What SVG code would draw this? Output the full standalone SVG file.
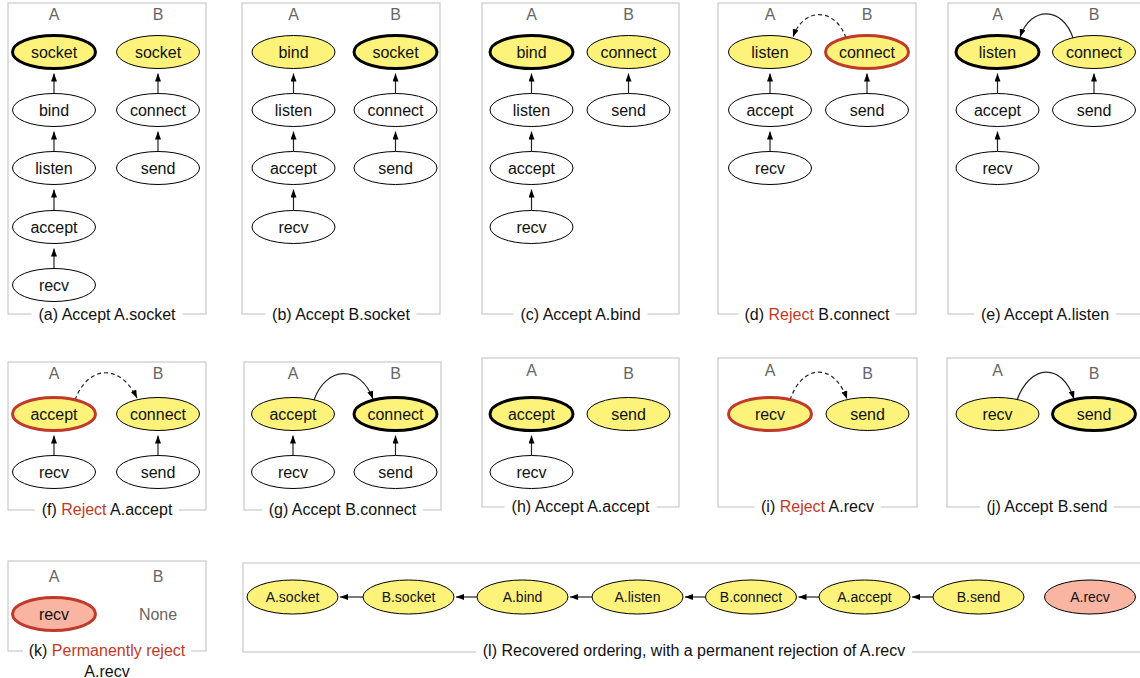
<svg xmlns="http://www.w3.org/2000/svg" width="1140" height="678" viewBox="0 0 1140 678">
<style>
text{font-family:"Liberation Sans",Arial,sans-serif}
.frame{fill:none;stroke:#c8c8c8;stroke-width:1.2}
.gap{fill:#fff;stroke:none}
.cap{font-size:16px;text-anchor:middle;fill:#111}
.red{fill:#c23a26}
.lbl{font-size:16px;text-anchor:middle;fill:#666}
.nd ellipse{fill:#fff;stroke:#000;stroke-width:1}
.nd text{font-size:16px;text-anchor:middle;fill:#111}
.nd.y ellipse{fill:#fdf37b}
.nd.b ellipse{stroke-width:3}
.nd.r ellipse{stroke:#c0392b;stroke-width:3}
.nd.s ellipse{fill:#f9b4a2}
.nd.sm text{font-size:14px}
.e{fill:none;stroke:#222;stroke-width:1.2;marker-end:url(#ah)}
.d{stroke-dasharray:4 3}
</style>
<defs>
<marker id="ah" viewBox="0 0 8 6" refX="8" refY="3" markerWidth="8" markerHeight="6" markerUnits="userSpaceOnUse" orient="auto"><path d="M0,0 L8,3 L0,6 z" fill="#000"/></marker>
</defs>

<!-- Frames and captions -->
<g id="frames">
<rect class="frame" x="8" y="3" width="198" height="311"/>
<rect class="frame" x="242" y="3" width="198" height="311"/>
<rect class="frame" x="482" y="3" width="197" height="311"/>
<rect class="frame" x="718" y="3" width="198" height="311"/>
<rect class="frame" x="948" y="3" width="197" height="311"/>
<rect class="frame" x="8" y="362" width="198" height="148"/>
<rect class="frame" x="244" y="362" width="197" height="148"/>
<rect class="frame" x="482" y="358" width="197" height="149"/>
<rect class="frame" x="718" y="358" width="199" height="149"/>
<rect class="frame" x="947" y="358" width="200" height="149"/>
<rect class="frame" x="8" y="561" width="198" height="90"/>
<rect class="frame" x="243" y="563" width="902" height="89"/>
<rect class="gap" x="31.5" y="308" width="151" height="12"/>
<rect class="gap" x="265.5" y="308" width="151" height="12"/>
<rect class="gap" x="513.5" y="308" width="134" height="12"/>
<rect class="gap" x="738.5" y="308" width="157" height="12"/>
<rect class="gap" x="974" y="308" width="142" height="12"/>
<rect class="gap" x="35" y="504" width="144" height="12"/>
<rect class="gap" x="262" y="504" width="161" height="12"/>
<rect class="gap" x="504.5" y="501" width="152" height="12"/>
<rect class="gap" x="754.5" y="501" width="126" height="12"/>
<rect class="gap" x="980" y="501" width="134" height="12"/>
<rect class="gap" x="23" y="645" width="168" height="12"/>
<rect class="gap" x="476" y="646" width="436" height="12"/>
</g>
<g id="captions">
<text class="cap" x="107" y="320">(a) Accept A.socket</text>
<text class="cap" x="341" y="320">(b) Accept B.socket</text>
<text class="cap" x="580.5" y="320">(c) Accept A.bind</text>
<text class="cap" x="817" y="320">(d) <tspan class="red">Reject</tspan> B.connect</text>
<text class="cap" x="1045" y="320">(e) Accept A.listen</text>
<text class="cap" x="107" y="515">(f) <tspan class="red">Reject</tspan> A.accept</text>
<text class="cap" x="342.5" y="515">(g) Accept B.connect</text>
<text class="cap" x="580.5" y="512">(h) Accept A.accept</text>
<text class="cap" x="817.5" y="512">(i) <tspan class="red">Reject</tspan> A.recv</text>
<text class="cap" x="1047" y="512">(j) Accept B.send</text>
<text class="cap" x="107" y="656">(k) <tspan class="red">Permanently reject</tspan></text>
<text class="cap" x="107" y="677">A.recv</text>
<text class="cap" x="694" y="656">(l) Recovered ordering, with a permanent rejection of A.recv</text>
</g>
<g id="column-labels">
<text class="lbl" x="54" y="20">A</text><text class="lbl" x="158" y="20">B</text>
<text class="lbl" x="293.5" y="20">A</text><text class="lbl" x="395.5" y="20">B</text>
<text class="lbl" x="531.5" y="20">A</text><text class="lbl" x="628.5" y="20">B</text>
<text class="lbl" x="770" y="20">A</text><text class="lbl" x="867" y="20">B</text>
<text class="lbl" x="997.5" y="20">A</text><text class="lbl" x="1094" y="20">B</text>
<text class="lbl" x="54" y="379">A</text><text class="lbl" x="158" y="379">B</text>
<text class="lbl" x="293" y="379">A</text><text class="lbl" x="395.5" y="379">B</text>
<text class="lbl" x="531.5" y="376">A</text><text class="lbl" x="628.5" y="379">B</text>
<text class="lbl" x="770" y="376">A</text><text class="lbl" x="867.5" y="379">B</text>
<text class="lbl" x="997.5" y="376">A</text><text class="lbl" x="1094" y="379">B</text>
<text class="lbl" x="54" y="582">A</text><text class="lbl" x="158" y="582">B</text>
<text class="lbl" x="158" y="619.5">None</text>
</g>

<!-- Connectors -->
<g id="connectors">
<!-- (a) -->
<line class="e" x1="54" y1="93.5" x2="54" y2="73.5"/>
<line class="e" x1="54" y1="151.5" x2="54" y2="131.5"/>
<line class="e" x1="54" y1="210.5" x2="54" y2="189.5"/>
<line class="e" x1="54" y1="268.5" x2="54" y2="248.5"/>
<line class="e" x1="158" y1="93.5" x2="158" y2="73.5"/>
<line class="e" x1="158" y1="151.5" x2="158" y2="131.5"/>
<!-- (b) -->
<line class="e" x1="293.5" y1="93.5" x2="293.5" y2="73.5"/>
<line class="e" x1="293.5" y1="151.5" x2="293.5" y2="131.5"/>
<line class="e" x1="293.5" y1="210.5" x2="293.5" y2="189.5"/>
<line class="e" x1="395.5" y1="93.5" x2="395.5" y2="73.5"/>
<line class="e" x1="395.5" y1="151.5" x2="395.5" y2="131.5"/>
<!-- (c) -->
<line class="e" x1="531.5" y1="93.5" x2="531.5" y2="73.5"/>
<line class="e" x1="531.5" y1="151.5" x2="531.5" y2="131.5"/>
<line class="e" x1="531.5" y1="210.5" x2="531.5" y2="189.5"/>
<line class="e" x1="628.5" y1="93.5" x2="628.5" y2="73.5"/>
<!-- (d) -->
<line class="e" x1="770" y1="93.5" x2="770" y2="73.5"/>
<line class="e" x1="770" y1="151.5" x2="770" y2="131.5"/>
<line class="e" x1="867" y1="93.5" x2="867" y2="73.5"/>
<path class="e d" d="M846,38 C836,8 804,6 793,37"/>
<!-- (e) -->
<line class="e" x1="997.5" y1="93.5" x2="997.5" y2="73.5"/>
<line class="e" x1="997.5" y1="151.5" x2="997.5" y2="131.5"/>
<line class="e" x1="1094" y1="93.5" x2="1094" y2="73.5"/>
<path class="e" d="M1073,38 C1063,7 1031,5 1020,37"/>
<!-- (f) -->
<line class="e" x1="54" y1="455.5" x2="54" y2="435.5"/>
<line class="e" x1="158" y1="455.5" x2="158" y2="435.5"/>
<path class="e d" d="M75,400 C88,365 120,363 137,398"/>
<!-- (g) -->
<line class="e" x1="293" y1="455.5" x2="293" y2="435.5"/>
<line class="e" x1="395.5" y1="455.5" x2="395.5" y2="435.5"/>
<path class="e" d="M314,400 C326,366 360,364 373,399"/>
<!-- (h) -->
<line class="e" x1="531.5" y1="455.5" x2="531.5" y2="435.5"/>
<!-- (i) -->
<path class="e d" d="M790,400 C802,364 834,362 847,399"/>
<!-- (j) -->
<path class="e" d="M1017,400 C1030,364 1062,362 1074,399"/>
<!-- (l) -->
<line class="e" x1="363" y1="597" x2="340" y2="597"/>
<line class="e" x1="477" y1="597" x2="456" y2="597"/>
<line class="e" x1="592" y1="597" x2="570" y2="597"/>
<line class="e" x1="705.5" y1="597" x2="685" y2="597"/>
<line class="e" x1="819" y1="597" x2="798.5" y2="597"/>
<line class="e" x1="933" y1="597" x2="912" y2="597"/>
</g>

<!-- Nodes -->
<g id="a-A-socket" class="nd y b"><ellipse cx="54" cy="52" rx="41.5" ry="16.5"/><text x="54" y="57.5">socket</text></g>
<g id="a-A-bind" class="nd"><ellipse cx="54" cy="110" rx="41.5" ry="16.5"/><text x="54" y="115.5">bind</text></g>
<g id="a-A-listen" class="nd"><ellipse cx="54" cy="168" rx="41.5" ry="16.5"/><text x="54" y="173.5">listen</text></g>
<g id="a-A-accept" class="nd"><ellipse cx="54" cy="227" rx="41.5" ry="16.5"/><text x="54" y="232.5">accept</text></g>
<g id="a-A-recv" class="nd"><ellipse cx="54" cy="285" rx="41.5" ry="16.5"/><text x="54" y="290.5">recv</text></g>
<g id="a-B-socket" class="nd y"><ellipse cx="158" cy="52" rx="41.5" ry="16.5"/><text x="158" y="57.5">socket</text></g>
<g id="a-B-connect" class="nd"><ellipse cx="158" cy="110" rx="41.5" ry="16.5"/><text x="158" y="115.5">connect</text></g>
<g id="a-B-send" class="nd"><ellipse cx="158" cy="168" rx="41.5" ry="16.5"/><text x="158" y="173.5">send</text></g>

<g id="b-A-bind" class="nd y"><ellipse cx="293.5" cy="52" rx="41.5" ry="16.5"/><text x="293.5" y="57.5">bind</text></g>
<g id="b-A-listen" class="nd"><ellipse cx="293.5" cy="110" rx="41.5" ry="16.5"/><text x="293.5" y="115.5">listen</text></g>
<g id="b-A-accept" class="nd"><ellipse cx="293.5" cy="168" rx="41.5" ry="16.5"/><text x="293.5" y="173.5">accept</text></g>
<g id="b-A-recv" class="nd"><ellipse cx="293.5" cy="227" rx="41.5" ry="16.5"/><text x="293.5" y="232.5">recv</text></g>
<g id="b-B-socket" class="nd y b"><ellipse cx="395.5" cy="52" rx="41.5" ry="16.5"/><text x="395.5" y="57.5">socket</text></g>
<g id="b-B-connect" class="nd"><ellipse cx="395.5" cy="110" rx="41.5" ry="16.5"/><text x="395.5" y="115.5">connect</text></g>
<g id="b-B-send" class="nd"><ellipse cx="395.5" cy="168" rx="41.5" ry="16.5"/><text x="395.5" y="173.5">send</text></g>

<g id="c-A-bind" class="nd y b"><ellipse cx="531.5" cy="52" rx="41.5" ry="16.5"/><text x="531.5" y="57.5">bind</text></g>
<g id="c-A-listen" class="nd"><ellipse cx="531.5" cy="110" rx="41.5" ry="16.5"/><text x="531.5" y="115.5">listen</text></g>
<g id="c-A-accept" class="nd"><ellipse cx="531.5" cy="168" rx="41.5" ry="16.5"/><text x="531.5" y="173.5">accept</text></g>
<g id="c-A-recv" class="nd"><ellipse cx="531.5" cy="227" rx="41.5" ry="16.5"/><text x="531.5" y="232.5">recv</text></g>
<g id="c-B-connect" class="nd y"><ellipse cx="628.5" cy="52" rx="41.5" ry="16.5"/><text x="628.5" y="57.5">connect</text></g>
<g id="c-B-send" class="nd"><ellipse cx="628.5" cy="110" rx="41.5" ry="16.5"/><text x="628.5" y="115.5">send</text></g>

<g id="d-A-listen" class="nd y"><ellipse cx="770" cy="52" rx="41.5" ry="16.5"/><text x="770" y="57.5">listen</text></g>
<g id="d-A-accept" class="nd"><ellipse cx="770" cy="110" rx="41.5" ry="16.5"/><text x="770" y="115.5">accept</text></g>
<g id="d-A-recv" class="nd"><ellipse cx="770" cy="168" rx="41.5" ry="16.5"/><text x="770" y="173.5">recv</text></g>
<g id="d-B-connect" class="nd y r"><ellipse cx="867" cy="52" rx="41.5" ry="16.5"/><text x="867" y="57.5">connect</text></g>
<g id="d-B-send" class="nd"><ellipse cx="867" cy="110" rx="41.5" ry="16.5"/><text x="867" y="115.5">send</text></g>

<g id="e-A-listen" class="nd y b"><ellipse cx="997.5" cy="52" rx="41.5" ry="16.5"/><text x="997.5" y="57.5">listen</text></g>
<g id="e-A-accept" class="nd"><ellipse cx="997.5" cy="110" rx="41.5" ry="16.5"/><text x="997.5" y="115.5">accept</text></g>
<g id="e-A-recv" class="nd"><ellipse cx="997.5" cy="168" rx="41.5" ry="16.5"/><text x="997.5" y="173.5">recv</text></g>
<g id="e-B-connect" class="nd y"><ellipse cx="1094" cy="52" rx="41.5" ry="16.5"/><text x="1094" y="57.5">connect</text></g>
<g id="e-B-send" class="nd"><ellipse cx="1094" cy="110" rx="41.5" ry="16.5"/><text x="1094" y="115.5">send</text></g>

<g id="f-A-accept" class="nd y r"><ellipse cx="54" cy="414" rx="41.5" ry="16.5"/><text x="54" y="419.5">accept</text></g>
<g id="f-A-recv" class="nd"><ellipse cx="54" cy="472" rx="41.5" ry="16.5"/><text x="54" y="477.5">recv</text></g>
<g id="f-B-connect" class="nd y"><ellipse cx="158" cy="414" rx="41.5" ry="16.5"/><text x="158" y="419.5">connect</text></g>
<g id="f-B-send" class="nd"><ellipse cx="158" cy="472" rx="41.5" ry="16.5"/><text x="158" y="477.5">send</text></g>

<g id="g-A-accept" class="nd y"><ellipse cx="293" cy="414" rx="41.5" ry="16.5"/><text x="293" y="419.5">accept</text></g>
<g id="g-A-recv" class="nd"><ellipse cx="293" cy="472" rx="41.5" ry="16.5"/><text x="293" y="477.5">recv</text></g>
<g id="g-B-connect" class="nd y b"><ellipse cx="395.5" cy="414" rx="41.5" ry="16.5"/><text x="395.5" y="419.5">connect</text></g>
<g id="g-B-send" class="nd"><ellipse cx="395.5" cy="472" rx="41.5" ry="16.5"/><text x="395.5" y="477.5">send</text></g>

<g id="h-A-accept" class="nd y b"><ellipse cx="531.5" cy="414" rx="41.5" ry="16.5"/><text x="531.5" y="419.5">accept</text></g>
<g id="h-A-recv" class="nd"><ellipse cx="531.5" cy="472" rx="41.5" ry="16.5"/><text x="531.5" y="477.5">recv</text></g>
<g id="h-B-send" class="nd y"><ellipse cx="628.5" cy="414" rx="41.5" ry="16.5"/><text x="628.5" y="419.5">send</text></g>

<g id="i-A-recv" class="nd y r"><ellipse cx="770" cy="414" rx="41.5" ry="16.5"/><text x="770" y="419.5">recv</text></g>
<g id="i-B-send" class="nd y"><ellipse cx="867.5" cy="414" rx="41.5" ry="16.5"/><text x="867.5" y="419.5">send</text></g>

<g id="j-A-recv" class="nd y"><ellipse cx="997.5" cy="414" rx="41.5" ry="16.5"/><text x="997.5" y="419.5">recv</text></g>
<g id="j-B-send" class="nd y b"><ellipse cx="1094" cy="414" rx="41.5" ry="16.5"/><text x="1094" y="419.5">send</text></g>

<g id="k-A-recv" class="nd s r"><ellipse cx="54" cy="614" rx="41.5" ry="16.5"/><text x="54" y="619.5">recv</text></g>

<g id="l-A-socket" class="nd y sm"><ellipse cx="292.5" cy="597" rx="45.5" ry="17"/><text x="292.5" y="602">A.socket</text></g>
<g id="l-B-socket" class="nd y sm"><ellipse cx="408.5" cy="597" rx="45.5" ry="17"/><text x="408.5" y="602">B.socket</text></g>
<g id="l-A-bind" class="nd y sm"><ellipse cx="522.5" cy="597" rx="45.5" ry="17"/><text x="522.5" y="602">A.bind</text></g>
<g id="l-A-listen" class="nd y sm"><ellipse cx="637.5" cy="597" rx="45.5" ry="17"/><text x="637.5" y="602">A.listen</text></g>
<g id="l-B-connect" class="nd y sm"><ellipse cx="751" cy="597" rx="45.5" ry="17"/><text x="751" y="602">B.connect</text></g>
<g id="l-A-accept" class="nd y sm"><ellipse cx="864.5" cy="597" rx="45.5" ry="17"/><text x="864.5" y="602">A.accept</text></g>
<g id="l-B-send" class="nd y sm"><ellipse cx="978.5" cy="597" rx="45.5" ry="17"/><text x="978.5" y="602">B.send</text></g>
<g id="l-A-recv" class="nd s sm"><ellipse cx="1090" cy="597" rx="45.5" ry="17"/><text x="1090" y="602">A.recv</text></g>
</svg>
